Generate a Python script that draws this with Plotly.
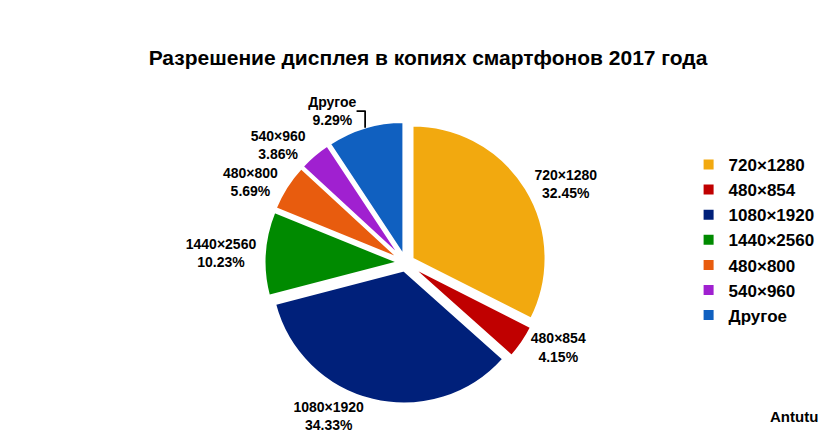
import plotly.graph_objects as go

labels = ["720×1280", "480×854", "1080×1920", "1440×2560", "480×800", "540×960", "Другое"]
values = [32.45, 4.15, 34.33, 10.23, 5.69, 3.86, 9.29]
colors = ["#F2A90F", "#C00000", "#00207A", "#008A00", "#E85C0E", "#A020D0", "#1060C0"]

fig = go.Figure(
    go.Pie(
        labels=labels,
        values=values,
        sort=False,
        direction="clockwise",
        rotation=0,
        pull=0.06,
        marker=dict(colors=colors, line=dict(color="white", width=2)),
        texttemplate="<b>%{label}<br>%{value:.2f}%</b>",
        textposition="outside",
        textfont=dict(family="Liberation Sans", size=14, color="black"),
        domain=dict(x=[0.3, 0.67], y=[0.06, 0.73]),
        hoverinfo="skip",
    )
)

fig.update_layout(
    width=840,
    height=446,
    paper_bgcolor="white",
    margin=dict(l=0, r=20, t=0, b=0),
    title=dict(
        text="<b>Разрешение дисплея в копиях смартфонов 2017 года</b>",
        x=0.5, y=0.905, xanchor="center",
        font=dict(family="Liberation Sans", size=21, color="black"),
    ),
    legend=dict(
        x=0.83, y=0.67, xanchor="left", yanchor="top",
        font=dict(family="Liberation Sans", size=17, color="black", weight="bold"),
        itemsizing="constant",
        tracegroupgap=4,
    ),
    font=dict(family="Liberation Sans"),
    annotations=[
        dict(text="<b>Antutu</b>", x=0.99, y=0.005, xref="paper", yref="paper",
             xanchor="right", yanchor="bottom", showarrow=False,
             font=dict(family="Liberation Sans", size=15, color="black"))
    ],
)

fig.write_html("out.html")
